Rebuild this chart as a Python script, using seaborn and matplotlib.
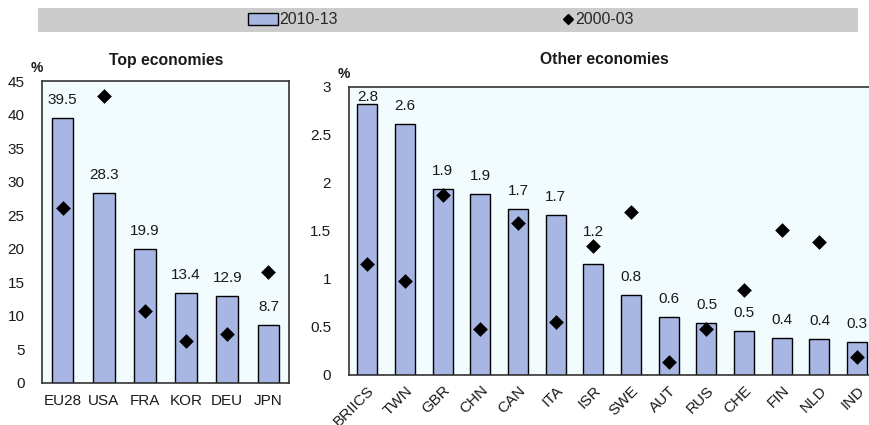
import numpy as np
import pandas as pd
import matplotlib.pyplot as plt
import seaborn as sns
from matplotlib.patches import Rectangle, Patch
from matplotlib.lines import Line2D

# -----------------------------
# Data
# -----------------------------
top_countries = ["EU28", "USA", "FRA", "KOR", "DEU", "JPN"]
top_2010 = [39.5, 28.3, 19.9, 13.4, 12.9, 8.7]
top_2000 = [26.1, 42.7, 10.7, 6.3, 7.3, 16.6]

other_countries = ["BRIICS", "TWN", "GBR", "CHN", "CAN", "ITA", "ISR",
                   "SWE", "AUT", "RUS", "CHE", "FIN", "NLD", "IND"]
other_2010 = [2.82, 2.61, 1.94, 1.88, 1.73, 1.66, 1.16,
              0.83, 0.60, 0.54, 0.46, 0.39, 0.37, 0.34]
other_2000 = [1.15, 0.98, 1.87, 0.48, 1.58, 0.55, 1.34,
              1.70, 0.14, 0.48, 0.88, 1.51, 1.38, 0.19]

# -----------------------------
# Style
# -----------------------------
sns.set_style("white")
plt.rcParams['font.family'] = ['Liberation Sans', 'DejaVu Sans']

bar_color = "#A7B6E3"
bg_color = "#F2FBFE"
text_color = "#1a1a1a"

W, H, DPI = 869, 425, 100
fig = plt.figure(figsize=(W / DPI, H / DPI), dpi=DPI)


def px_box(x0, y0, x1, y1):
    # pixel box (top-left origin) -> figure fraction rect
    return [x0 / W, (H - y1) / H, (x1 - x0) / W, (y1 - y0) / H]


ax1 = fig.add_axes(px_box(42, 81, 289, 383))
ax2 = fig.add_axes(px_box(348.5, 86.7, 876, 375))


def draw_panel(ax, cats, v_new, v_old, ymax, ystep, title, title_x, rot):
    ax.set_facecolor(bg_color)
    sns.barplot(x=cats, y=v_new, color=bar_color, width=0.53,
                edgecolor="black", linewidth=1.0, saturation=1, ax=ax)
    sns.stripplot(x=cats, y=v_old, jitter=False, marker="D", color="black",
                  size=7.5, linewidth=0, ax=ax, zorder=5)
    n = len(cats)
    ax.set_xlim(-0.5, n - 0.5)
    ax.set_ylim(0, ymax)
    yt = np.arange(0, ymax + ystep / 2, ystep)
    ax.set_yticks(yt)
    ax.set_yticklabels([f"{t:g}" for t in yt], fontsize=11, color=text_color)
    ax.set_xticks(range(n))
    if rot:
        ax.set_xticklabels(cats, rotation=45, ha="right", rotation_mode="anchor",
                           fontsize=11, color=text_color)
        ax.tick_params(axis="x", which="major", length=0, pad=6)
    else:
        ax.set_xticklabels(cats, fontsize=11, color=text_color)
        ax.tick_params(axis="x", which="major", length=0, pad=8)
    ax.set_xticks(np.arange(0.5, n - 0.5, 1), minor=True)
    ax.tick_params(axis="x", which="minor", length=4, width=1, direction="in", color="#333333")
    ax.tick_params(axis="y", length=0, pad=12.5)
    ax.set_xlabel("")
    ax.set_ylabel("")
    for s in ax.spines.values():
        s.set_visible(True)
        s.set_color("#333333")
        s.set_linewidth(1.2)

    # value labels above bars (pushed above a diamond sitting just over the bar)
    ppu = ax.get_position().height * H / ymax
    top_px = ymax * ppu
    for i, (a, b) in enumerate(zip(v_new, v_old)):
        y_px = a * ppu + 18
        if b > a and (b - a) * ppu < 25:
            y_px = b * ppu + 14
        y_px = min(y_px, top_px - 10)
        ax.text(i, y_px / ppu, f"{a:.1f}", ha="center", va="center",
                fontsize=11, color=text_color)

    fig.text(title_x / W, 1 - 60 / H, title, ha="center", va="center",
             fontsize=11.3, fontweight="bold", color=text_color)


draw_panel(ax1, top_countries, top_2010, top_2000, 45, 5, "Top economies", 166, False)
draw_panel(ax2, other_countries, other_2010, other_2000, 3, 0.5, "Other economies", 604, True)

fig.text(37 / W, 1 - 68 / H, "%", ha="center", va="center", fontsize=10,
         fontweight="bold", color=text_color)
fig.text(343.5 / W, 1 - 73.5 / H, "%", ha="center", va="center", fontsize=10,
         fontweight="bold", color=text_color)

# legend strip at the top
fig.patches.append(Rectangle((38 / W, 1 - 32 / H), 820 / W, 24 / H,
                             transform=fig.transFigure, facecolor="#CCCCCC",
                             edgecolor="none", zorder=0))
leg_font = {"family": ["Liberation Sans Narrow", "Liberation Sans"], "size": 11.5}
bar_handle = Patch(facecolor=bar_color, edgecolor="black", linewidth=1.0, label="2010-13")
dot_handle = Line2D([], [], marker="D", color="black", linestyle="none",
                    markersize=5, label="2000-03")
fig.legend(handles=[bar_handle], loc="center left", bbox_to_anchor=(248 / W, 1 - 20 / H),
           frameon=False, prop=leg_font, handlelength=1.85, handleheight=0.75,
           handletextpad=0.1, borderpad=0, borderaxespad=0)
fig.legend(handles=[dot_handle], loc="center left", bbox_to_anchor=(562 / W, 1 - 20 / H),
           frameon=False, prop=leg_font, handlelength=0.7,
           handletextpad=0.1, borderpad=0, borderaxespad=0)

fig.savefig("out.png", dpi=DPI)
